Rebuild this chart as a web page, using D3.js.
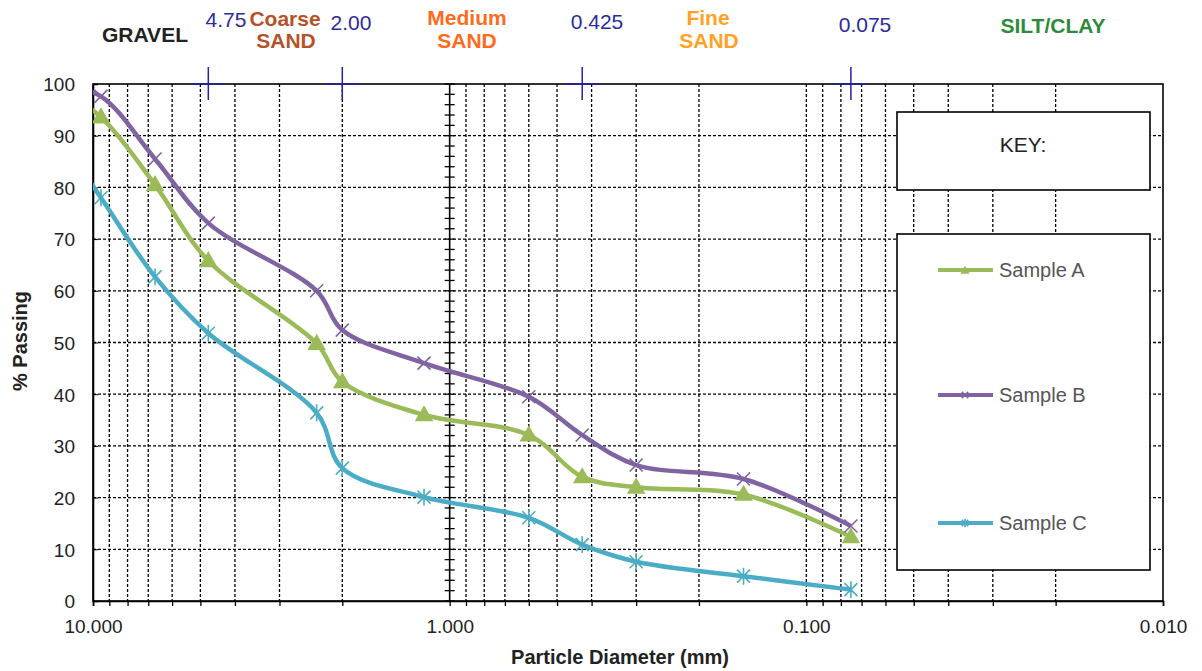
<!DOCTYPE html>
<html>
<head>
<meta charset="utf-8">
<script src="https://cdn.jsdelivr.net/npm/d3@7"></script>
<style>
  body { margin: 0; background: #fff; }
  svg { display: block; font-family: "Liberation Sans", Arial, sans-serif; }
</style>
</head>
<body>
<svg id="chart" width="1202" height="671"></svg>
<script>
// ---- data ----
const sieveSizes = [12.5, 9.5, 6.7, 4.75, 2.36, 2.0, 1.18, 0.6, 0.425, 0.3, 0.15, 0.075];
const sampleA = [99, 93.6, 80.5, 65.8, 49.8, 42.4, 36.0, 32.1, 24.0, 22.0, 20.6, 12.4];
const sampleB = [100, 97.6, 85.5, 73.1, 60.0, 52.4, 46.0, 39.5, 32.1, 26.3, 23.6, 14.5];
const sampleC = [90, 78.0, 62.7, 51.8, 36.4, 25.7, 20.1, 16.1, 10.9, 7.6, 4.8, 2.2];
const seriesNames = ["Sample A", "Sample B", "Sample C"];
const xTickLabels = [10, 1, 0.1, 0.01];
const yTicks = [0, 10, 20, 30, 40, 50, 60, 70, 80, 90, 100];
const boundarySizes = [4.75, 2.00, 0.425, 0.075];
const boundaryLabels = ["4.75", "2.00", "0.425", "0.075"];
const zoneNames = [["GRAVEL"], ["Coarse", "SAND"], ["Medium", "SAND"], ["Fine", "SAND"], ["SILT/CLAY"]];
const zoneColors = ["#222222", "#b5522a", "#ff6a1c", "#ffa224", "#2e8b3a"];

// ---- layout ----
const L = 93, R = 1163, T = 84, B = 601;
const svg = d3.select("#chart");
const x = d3.scaleLog().domain([10, 0.01]).range([L, R]);
const y = d3.scaleLinear().domain([0, 100]).range([B, T]);

// grid values (minor log values)
const minorVals = [];
[1, 0.1, 0.01].forEach(dec => { for (let k = 9; k >= 2; k--) minorVals.push(+(k * dec).toFixed(4)); });
const gridVals = minorVals.concat([0.1]);

svg.append("defs").append("clipPath").attr("id", "plotclip")
  .append("rect").attr("x", L).attr("y", T).attr("width", R - L).attr("height", B - T);

// vertical dashed gridlines
svg.append("g").selectAll("line").data(gridVals).join("line")
  .attr("x1", d => x(d)).attr("x2", d => x(d)).attr("y1", T).attr("y2", B)
  .attr("stroke", "#000").attr("stroke-width", 1.3).attr("stroke-dasharray", "3,2");
// horizontal dashed gridlines
svg.append("g").selectAll("line").data(yTicks.filter(v => v > 0 && v < 100)).join("line")
  .attr("x1", L).attr("x2", R).attr("y1", d => y(d)).attr("y2", d => y(d))
  .attr("stroke", "#000").attr("stroke-width", 1.3).attr("stroke-dasharray", "3,2");

// plot border
svg.append("rect").attr("x", L).attr("y", T).attr("width", R - L).attr("height", B - T)
  .attr("fill", "none").attr("stroke", "#000").attr("stroke-width", 1.6);

// bottom axis
const xAxis = d3.axisBottom(x).tickValues(minorVals.concat(xTickLabels)).tickSize(5)
  .tickFormat(d => xTickLabels.includes(d) ? d3.format(".3f")(d) : "");
const gx = svg.append("g").attr("transform", `translate(0,${B})`).call(xAxis);
gx.select(".domain").attr("stroke-width", 1.6);
gx.selectAll("text").attr("font-size", 19).attr("fill", "#222").attr("dy", "1.25em");
gx.selectAll(".tick line").attr("stroke-width", 1.3);

// left axis (labels)
const yAxis = d3.axisLeft(y).tickValues(yTicks).tickSize(-5).tickPadding(18);
const gy = svg.append("g").attr("transform", `translate(${L},0)`).call(yAxis);
gy.select(".domain").attr("stroke-width", 1.6);
gy.selectAll("text").attr("font-size", 19).attr("fill", "#222").attr("dy", "0.36em");

// vertical axis crossing at 1.0 with cross ticks
const yMinor = d3.range(0, 101, 2);
const gMid = svg.append("g");
gMid.append("line").attr("x1", x(1)).attr("x2", x(1)).attr("y1", T).attr("y2", B)
  .attr("stroke", "#000").attr("stroke-width", 1.6);
gMid.selectAll("line.mt").data(yMinor).join("line").attr("class", "mt")
  .attr("x1", x(1) - 5).attr("x2", x(1) + 5).attr("y1", d => y(d)).attr("y2", d => y(d))
  .attr("stroke", "#000").attr("stroke-width", 1.3);

// boundary markers on top
const gb = svg.append("g");
boundarySizes.forEach(s => {
  gb.append("line").attr("x1", x(s)).attr("x2", x(s)).attr("y1", T - 17).attr("y2", T + 16)
    .attr("stroke", "#2323a8").attr("stroke-width", 1.5);
  gb.append("line").attr("x1", x(s) - 17).attr("x2", x(s) + 17).attr("y1", T).attr("y2", T)
    .attr("stroke", "#2323a8").attr("stroke-width", 1.5);
});

// series
const colors = ["#9bbb59", "#8064a2", "#4bacc6"];
const allSeries = [sampleA, sampleB, sampleC];
const line = d3.line().x(d => x(d[0])).y(d => y(d[1])).curve(d3.curveCatmullRom.alpha(0.5));
const gs = svg.append("g").attr("clip-path", "url(#plotclip)");

function drawMarker(g, i, cx, cy, s) {
  const c = colors[i];
  if (i === 0) {
    g.append("path").attr("d", d3.symbol(d3.symbolTriangle, 150 * s * s)())
      .attr("transform", `translate(${cx},${cy + 1})`).attr("fill", c);
  } else if (i === 1) {
    const r = 6.5 * s;
    g.append("path").attr("d", `M${cx - r},${cy - r}L${cx + r},${cy + r}M${cx - r},${cy + r}L${cx + r},${cy - r}`)
      .attr("stroke", c).attr("stroke-width", 1.6).attr("fill", "none");
  } else {
    const r = 6.5 * s;
    g.append("path").attr("d", `M${cx - r},${cy - r}L${cx + r},${cy + r}M${cx - r},${cy + r}L${cx + r},${cy - r}M${cx},${cy - r * 1.3}L${cx},${cy + r * 1.3}`)
      .attr("stroke", c).attr("stroke-width", 1.6).attr("fill", "none");
  }
}

allSeries.forEach((vals, i) => {
  const pts = sieveSizes.map((s, j) => [s, vals[j]]);
  gs.append("path").attr("d", line(pts)).attr("fill", "none")
    .attr("stroke", colors[i]).attr("stroke-width", 4.5).attr("stroke-linejoin", "round");
  const gm = gs.append("g");
  pts.forEach(p => drawMarker(gm, i, x(p[0]), y(p[1]), 1));
});

// KEY box
svg.append("rect").attr("x", 897).attr("y", 112).attr("width", 253).attr("height", 78)
  .attr("fill", "#fff").attr("stroke", "#000").attr("stroke-width", 1.6);
svg.append("text").attr("x", 1023).attr("y", 152).attr("text-anchor", "middle")
  .attr("font-size", 21).attr("fill", "#222").text("KEY:");

// legend box
svg.append("rect").attr("x", 897).attr("y", 234).attr("width", 253).attr("height", 336)
  .attr("fill", "#fff").attr("stroke", "#000").attr("stroke-width", 1.6);
const legY = [270, 395, 523];
seriesNames.forEach((n, i) => {
  const g = svg.append("g");
  g.append("line").attr("x1", 938).attr("x2", 993).attr("y1", legY[i]).attr("y2", legY[i])
    .attr("stroke", colors[i]).attr("stroke-width", 4);
  drawMarker(g, i, 965, legY[i], 0.5);
  g.append("text").attr("x", 999).attr("y", legY[i] + 7).attr("font-size", 20)
    .attr("fill", "#555").text(n);
});

// top labels
const tl = svg.append("g").attr("font-size", 21).attr("text-anchor", "middle");
tl.append("text").attr("x", 145).attr("y", 42).attr("font-weight", "bold").attr("fill", zoneColors[0]).text(zoneNames[0][0]);
tl.append("text").attr("x", 285).attr("y", 26).attr("font-weight", "bold").attr("fill", zoneColors[1]).text(zoneNames[1][0]);
tl.append("text").attr("x", 286).attr("y", 48).attr("font-weight", "bold").attr("fill", zoneColors[1]).text(zoneNames[1][1]);
tl.append("text").attr("x", 467).attr("y", 25).attr("font-weight", "bold").attr("fill", zoneColors[2]).text(zoneNames[2][0]);
tl.append("text").attr("x", 467).attr("y", 48).attr("font-weight", "bold").attr("fill", zoneColors[2]).text(zoneNames[2][1]);
tl.append("text").attr("x", 708).attr("y", 25).attr("font-weight", "bold").attr("fill", zoneColors[3]).text(zoneNames[3][0]);
tl.append("text").attr("x", 709).attr("y", 48).attr("font-weight", "bold").attr("fill", zoneColors[3]).text(zoneNames[3][1]);
tl.append("text").attr("x", 1053).attr("y", 33).attr("font-weight", "bold").attr("fill", zoneColors[4]).text(zoneNames[4][0]);
const labX = [226, 351, 597, 865], labY = [27, 30, 29, 32];
boundaryLabels.forEach((t, i) => {
  tl.append("text").attr("x", labX[i]).attr("y", labY[i]).attr("fill", "#2b2b9c").text(t);
});

// axis titles
svg.append("text").attr("x", 620).attr("y", 664).attr("text-anchor", "middle")
  .attr("font-size", 20).attr("font-weight", "bold").attr("fill", "#222").text("Particle Diameter (mm)");
svg.append("text").attr("transform", "translate(27,341) rotate(-90)").attr("text-anchor", "middle")
  .attr("font-size", 20).attr("font-weight", "bold").attr("fill", "#222").text("% Passing");
</script>
</body>
</html>
